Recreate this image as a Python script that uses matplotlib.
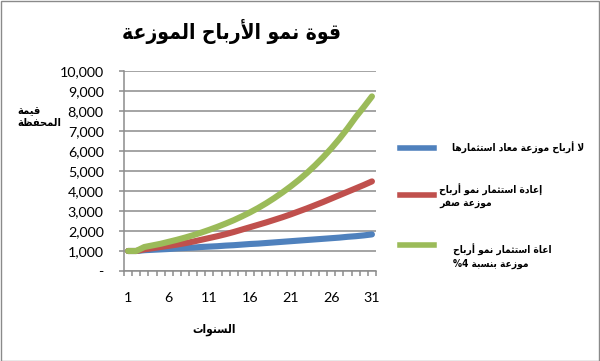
import matplotlib
matplotlib.use("Agg")
import matplotlib.pyplot as plt
from matplotlib.lines import Line2D
from matplotlib.patches import Rectangle
from matplotlib.ticker import FixedLocator, FuncFormatter

# ---------------- data ----------------
years = list(range(1, 32))
no_reinvest = [1000, 1000, 1040, 1060, 1080, 1100, 1130, 1150, 1170, 1200,
               1220, 1240, 1270, 1290, 1320, 1350, 1370, 1400, 1430, 1460,
               1490, 1520, 1550, 1580, 1610, 1640, 1670, 1710, 1740, 1780, 1830]
reinvest_zero = [1000, 1000, 1080, 1140, 1200, 1260, 1320, 1390, 1470, 1560,
                 1650, 1740, 1840, 1950, 2070, 2190, 2310, 2430, 2560, 2690,
                 2830, 2980, 3130, 3290, 3450, 3620, 3790, 3960, 4130, 4300, 4480]
reinvest_4pct = [1000, 1000, 1200, 1280, 1360, 1460, 1560, 1670, 1790, 1920,
                 2060, 2210, 2370, 2540, 2730, 2930, 3150, 3390, 3650, 3930,
                 4230, 4550, 4900, 5280, 5690, 6130, 6610, 7130, 7690, 8200, 8730]
series_names = ["لا أرباح موزعة معاد استثمارها",
                "إعادة استثمار نمو أرباح\nموزعة صفر",
                "اعاة استثمار نمو أرباح\nموزعة بنسبة %4"]
title_text = "قوة نمو الأرباح الموزعة"
ylabel_text = "قيمة\nالمحفظة"
xlabel_text = "السنوات"
x_tick_labels = [1, 6, 11, 16, 21, 26, 31]
y_ticks = [0, 1000, 2000, 3000, 4000, 5000, 6000, 7000, 8000, 9000, 10000]

# ------------- minimal Arabic shaping (presentation forms + visual order) -------------
_spec = [(0x0621, 0xFE80, 1), (0x0622, 0xFE81, 2), (0x0623, 0xFE83, 2), (0x0624, 0xFE85, 2),
         (0x0625, 0xFE87, 2), (0x0626, 0xFE89, 4), (0x0627, 0xFE8D, 2), (0x0628, 0xFE8F, 4),
         (0x0629, 0xFE93, 2), (0x062A, 0xFE95, 4), (0x062B, 0xFE99, 4), (0x062C, 0xFE9D, 4),
         (0x062D, 0xFEA1, 4), (0x062E, 0xFEA5, 4), (0x062F, 0xFEA9, 2), (0x0630, 0xFEAB, 2),
         (0x0631, 0xFEAD, 2), (0x0632, 0xFEAF, 2), (0x0633, 0xFEB1, 4), (0x0634, 0xFEB5, 4),
         (0x0635, 0xFEB9, 4), (0x0636, 0xFEBD, 4), (0x0637, 0xFEC1, 4), (0x0638, 0xFEC5, 4),
         (0x0639, 0xFEC9, 4), (0x063A, 0xFECD, 4), (0x0641, 0xFED1, 4), (0x0642, 0xFED5, 4),
         (0x0643, 0xFED9, 4), (0x0644, 0xFEDD, 4), (0x0645, 0xFEE1, 4), (0x0646, 0xFEE5, 4),
         (0x0647, 0xFEE9, 4), (0x0648, 0xFEED, 2), (0x0649, 0xFEEF, 2), (0x064A, 0xFEF1, 4)]
FORMS = {}
for cp, base, n in _spec:
    if n == 1:
        FORMS[cp] = (base, None, None, None)
    elif n == 2:
        FORMS[cp] = (base, base + 1, None, None)
    else:
        FORMS[cp] = (base, base + 1, base + 2, base + 3)
LAMALEF = {"\u0622": (0xFEF5, 0xFEF6), "\u0623": (0xFEF7, 0xFEF8),
           "\u0625": (0xFEF9, 0xFEFA), "\u0627": (0xFEFB, 0xFEFC)}
LTR = set("0123456789%.,")


def _is_ar(c):
    return c is not None and ord(c) in FORMS


def _dual(c):
    return _is_ar(c) and FORMS[ord(c)][2] is not None


def ar(s):
    lines = []
    for line in s.split("\n"):
        ch = list(line)
        n = len(ch)
        res = []
        i = 0
        while i < n:
            c = ch[i]
            if not _is_ar(c):
                res.append(c)
                i += 1
                continue
            prev = ch[i - 1] if i > 0 else None
            pj = _dual(prev)
            if c == "\u0644" and i + 1 < n and ch[i + 1] in LAMALEF:
                iso, fin = LAMALEF[ch[i + 1]]
                res.append(chr(fin if pj else iso))
                i += 2
                continue
            nxt = ch[i + 1] if i + 1 < n else None
            nj = _is_ar(nxt) and ord(nxt) != 0x0621
            iso, fin, ini, med = FORMS[ord(c)]
            if ini is None:
                f = fin if (pj and fin) else iso
            elif pj and nj:
                f = med
            elif pj:
                f = fin
            elif nj:
                f = ini
            else:
                f = iso
            res.append(chr(f))
            i += 1
        vis = res[::-1]
        out = []
        j = 0
        while j < len(vis):
            if vis[j] in LTR:
                k = j
                while k < len(vis) and vis[k] in LTR:
                    k += 1
                out.extend(vis[j:k][::-1])
                j = k
            else:
                out.append(vis[j])
                j += 1
        lines.append("".join(out))
    return "\n".join(lines)


# ---------------- figure ----------------
W, H = 600, 361
fig = plt.figure(figsize=(W / 100, H / 100), dpi=100)
fig.patch.set_facecolor("white")
fig.add_artist(Rectangle((0.5 / W, 0.5 / H), 1 - 1.5 / W, 1 - 1.5 / H, transform=fig.transFigure,
                         fill=False, edgecolor="#8a8a8a", linewidth=1.0))

ax = fig.add_axes([124 / W, (H - 271) / H, 252 / W, 200 / H])
colors = ["#4F81BD", "#C0504D", "#9BBB59"]
for vals, col in zip([no_reinvest, reinvest_zero, reinvest_4pct], colors):
    ax.plot(years, vals, color=col, linewidth=4.4, solid_capstyle="round",
            solid_joinstyle="round", zorder=3)

grid_col = "#8c8c8c"
ax.set_xlim(0.5, 31.5)
ax.set_ylim(0, 10000)
ax.yaxis.set_major_locator(FixedLocator(y_ticks))
ax.yaxis.set_major_formatter(FuncFormatter(lambda v, p: "-" if v == 0 else f"{int(v):,}"))
ax.xaxis.set_major_locator(FixedLocator(x_tick_labels))
ax.xaxis.set_minor_locator(FixedLocator([k + 0.5 for k in range(0, 32)]))
ax.grid(axis="y", color=grid_col, linewidth=1.1, zorder=1)
for side in ["top", "right"]:
    ax.spines[side].set_visible(False)
for side in ["left", "bottom"]:
    ax.spines[side].set_color(grid_col)
    ax.spines[side].set_linewidth(1.1)
ax.tick_params(axis="y", which="major", direction="out", length=3.6, width=1.1,
               color=grid_col, pad=11, labelsize=10.3)
ax.tick_params(axis="x", which="major", length=0, pad=15, labelsize=10.3)
ax.tick_params(axis="x", which="minor", direction="out", length=3.6, width=1.1, color=grid_col)
for lab in ax.get_xticklabels() + ax.get_yticklabels():
    lab.set_family("Lato")

arfont = dict(family="DejaVu Sans", weight="bold", stretch="condensed")
fig.text(232 / W, 1 - 31 / H, ar(title_text), ha="center", va="center", fontsize=15, **arfont)
fig.text(17 / W, 1 - 117 / H, ar(ylabel_text), ha="left", va="center", fontsize=8,
         multialignment="left", linespacing=1.3, **arfont)
fig.text(214 / W, 1 - 330 / H, ar(xlabel_text), ha="center", va="center", fontsize=8.5, **arfont)

# legend
leg_line_y = [148, 195, 245]
leg_text_pos = [(452, 148), (439, 196), (453, 256)]
for name, col, ly, (tx, ty) in zip(series_names, colors, leg_line_y, leg_text_pos):
    fig.add_artist(Line2D([400 / W, 434 / W], [1 - ly / H, 1 - ly / H], transform=fig.transFigure,
                          color=col, linewidth=4.0))
    fig.text(tx / W, 1 - ty / H, ar(name), ha="left", va="center", fontsize=7.3,
             multialignment="left", linespacing=1.35, **arfont)

fig.savefig("out.png", dpi=100, facecolor="white")
